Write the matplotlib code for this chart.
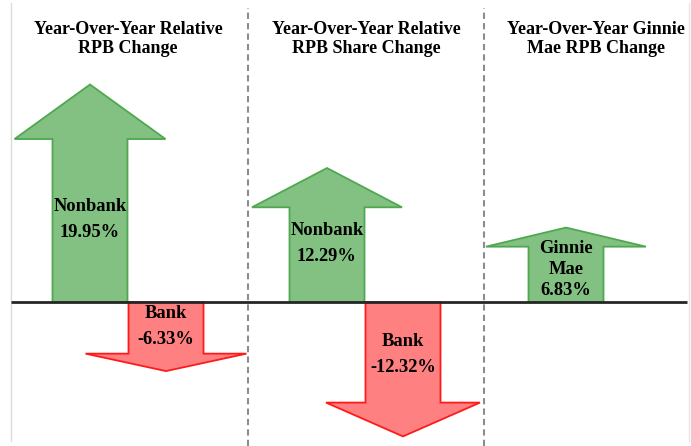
import matplotlib.pyplot as plt
from matplotlib.patches import Polygon

# Datos
titulos = ["Year-Over-Year Relative\nRPB Change",
           "Year-Over-Year Relative\nRPB Share Change",
           "Year-Over-Year Ginnie\nMae RPB Change"]
etiquetas = ["Nonbank", "Bank", "Nonbank", "Bank", "Ginnie\nMae"]
valores = [19.95, -6.33, 12.29, -12.32, 6.83]

# Disposición (coordenadas x en píxeles de la figura)
x_flechas = [90, 166, 327, 403, 566]
ancho_cabeza = [151, 161, 150, 154, 160]
largo_cabeza = [5.0, 1.6, 3.6, 3.1, 1.75]     # en unidades de %
frac_texto = [0.38, 0.36, 0.44, 0.39, 0.44]
x_titulos = [128, 366, 596]
x_separadores = [248, 484]
ancho_tallo = 75

VERDE, VERDE_BORDE = "#82c182", "#4fa84f"
ROJO, ROJO_BORDE = "#ff8080", "#ff1a1a"

fig = plt.figure(figsize=(6.91, 4.46), dpi=100)
ax = fig.add_axes([0, 0, 1, 1])
ax.set_xlim(0, 691)
ax.set_ylim(-13.2, 27.7)
ax.axis("off")

fuente = "Liberation Serif"


def flecha(x, valor, ancho_c, largo_c):
    s = 1 if valor >= 0 else -1
    base = valor - s * largo_c
    mt, mc = ancho_tallo / 2, ancho_c / 2
    pts = [(x - mt, 0), (x - mt, base), (x - mc, base), (x, valor),
           (x + mc, base), (x + mt, base), (x + mt, 0)]
    return pts


for x, v, et, ac, lc, fr in zip(x_flechas, valores, etiquetas,
                                ancho_cabeza, largo_cabeza, frac_texto):
    color, borde = (VERDE, VERDE_BORDE) if v >= 0 else (ROJO, ROJO_BORDE)
    ax.add_patch(Polygon(flecha(x, v, ac, lc), closed=True, facecolor=color,
                         edgecolor=borde, linewidth=1.3, zorder=2))
    texto = f"{et}\n{v:.2f}%"
    ls = 1.3 if "\n" in et else 1.7
    ax.text(x, v * fr, texto, ha="center", va="center", fontsize=13.3,
            fontweight="bold", family=fuente, linespacing=ls, zorder=3)

# Línea base
ax.hlines(0, 11, 687, color="#262626", linewidth=2, zorder=4)

# Separadores punteados
for xs in x_separadores:
    ax.axvline(xs, ymin=0, ymax=0.982, color="#8c8c8c", linewidth=1.5,
               linestyle=(0, (3, 2)))

# Bordes claros
ax.axvline(11, ymin=0.011, ymax=0.993, color="#dcdcdc", linewidth=1)
ax.axvline(689, ymin=0.011, ymax=0.993, color="#e6e6e6", linewidth=1)

# Títulos
for xt, t in zip(x_titulos, titulos):
    ax.text(xt, 0.913, t, transform=ax.get_xaxis_transform(), ha="center",
            va="center", fontsize=13, fontweight="bold", family=fuente,
            linespacing=1.12)

plt.savefig("out.png", dpi=100)
